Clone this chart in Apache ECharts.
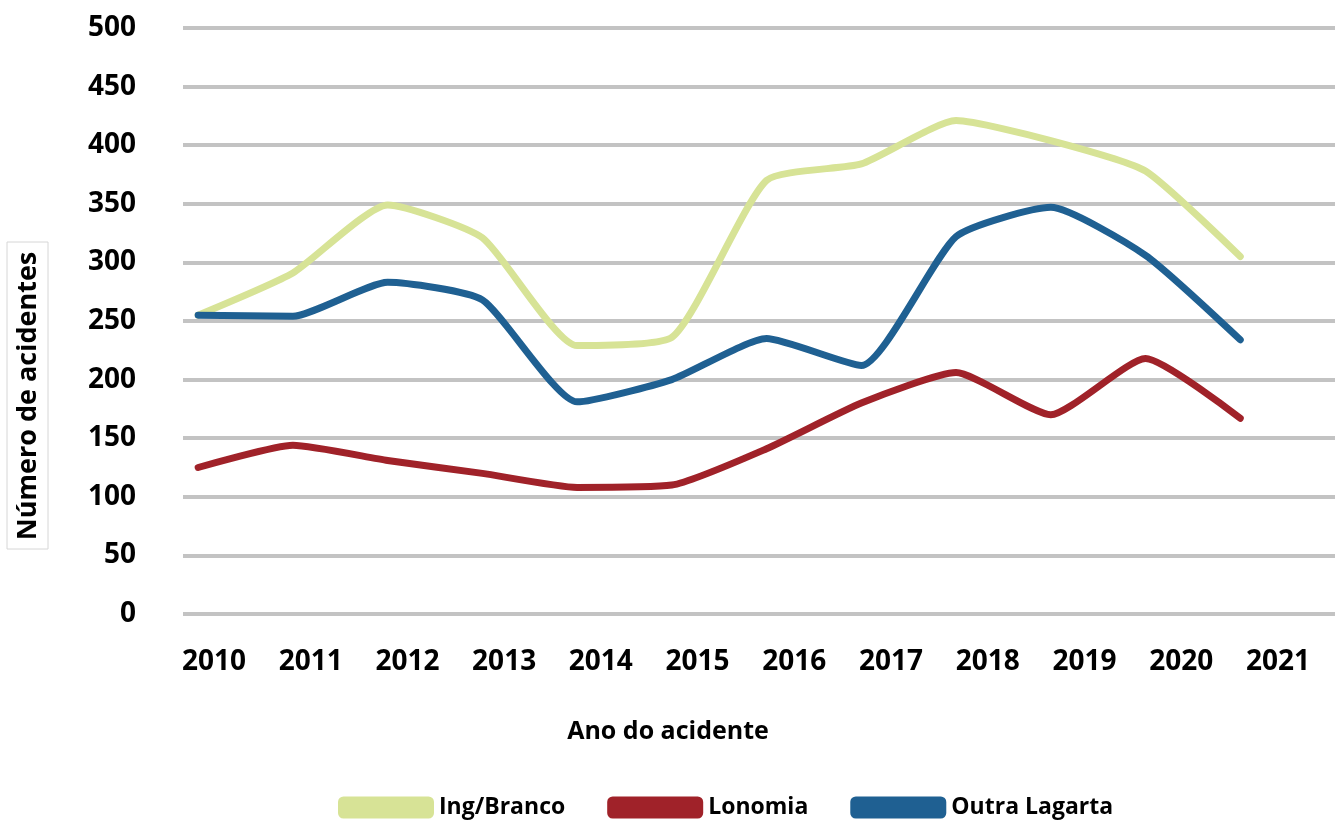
<!DOCTYPE html>
<html>
<head>
<meta charset="utf-8">
<title>Acidentes por lagartas</title>
<script src="https://cdn.jsdelivr.net/npm/echarts@6/dist/echarts.min.js"></script>
<style>
  html, body { margin: 0; padding: 0; background: #fff; }
  #chart { width: 1339px; height: 820px; }
</style>
</head>
<body>
<div id="chart"></div>
<script>
// anos (eixo x) e series
var anos = [2010, 2011, 2012, 2013, 2014, 2015, 2016, 2017, 2018, 2019, 2020, 2021];
var ingBranco = [255, 291, 349, 321, 229, 236, 370, 384, 421, 404, 378, 305];
var lonomia = [125, 144, 131, 120, 108, 110, 141, 180, 206, 170, 218, 167];
var outraLagarta = [255, 254, 283, 268, 181, 200, 235, 212, 322, 347, 306, 234];
var yTicks = [0, 50, 100, 150, 200, 250, 300, 350, 400, 450, 500];

var fonte = '"Open Sans", "Noto Sans", sans-serif';

function pares(valores) {
    return anos.map(function (ano, i) {
        return [ano, valores[i]];
    });
}

function serie(nome, cor, valores) {
    return {
        name: nome,
        type: 'line',
        xAxisIndex: 1,
        data: pares(valores),
        smooth: 0.18,
        symbol: 'none',
        color: cor,
        lineStyle: {width: 7, color: cor, cap: 'round', join: 'round'}
    };
}

var myChart = echarts.init(document.getElementById('chart'));
var option = {
    backgroundColor: '#ffffff',
    animation: false,
    grid: {left: 183, right: 4, top: 28, bottom: 206},
    xAxis: [
        {
            // eixo so com os rotulos dos anos
            type: 'value',
            min: 2009.68,
            max: 2021.59,
            axisLine: {show: false},
            axisTick: {show: false},
            splitLine: {show: false},
            axisLabel: {
                customValues: anos,
                margin: 34,
                color: '#000',
                fontFamily: fonte,
                fontWeight: 'bold',
                fontSize: 28,
                formatter: function (v) { return String(v); }
            }
        },
        {
            // eixo dos dados
            type: 'value',
            show: false,
            min: 2009.84,
            max: 2022.0
        }
    ],
    yAxis: {
        type: 'value',
        min: yTicks[0],
        max: yTicks[yTicks.length - 1],
        interval: 50,
        axisLine: {show: false},
        axisTick: {show: false},
        axisLabel: {
            margin: 47,
            color: '#000',
            fontFamily: fonte,
            fontWeight: 'bold',
            fontSize: 28
        },
        splitLine: {lineStyle: {color: '#c3c3c3', width: 4}}
    },
    legend: {
        left: 333,
        top: 791,
        itemWidth: 96,
        itemHeight: 22,
        itemGap: 42,
        icon: 'roundRect',
        textStyle: {color: '#000', fontFamily: fonte, fontWeight: 'bold', fontSize: 23},
        data: ['Ing/Branco', 'Lonomia', 'Outra Lagarta']
    },
    graphic: [
        {
            type: 'rect',
            shape: {x: 7, y: 242, width: 41, height: 307},
            style: {fill: 'none', stroke: '#d6d6d6', lineWidth: 1}
        },
        {
            type: 'text',
            x: 28,
            y: 396,
            rotation: Math.PI / 2,
            style: {
                text: 'Número de acidentes',
                fill: '#000',
                font: 'bold 27px ' + fonte,
                textAlign: 'center',
                textVerticalAlign: 'middle'
            }
        },
        {
            type: 'text',
            x: 668,
            y: 732,
            style: {
                text: 'Ano do acidente',
                fill: '#000',
                font: 'bold 25px ' + fonte,
                textAlign: 'center',
                textVerticalAlign: 'middle'
            }
        }
    ],
    series: [
        serie('Ing/Branco', '#d7e396', ingBranco),
        serie('Lonomia', '#a02229', lonomia),
        serie('Outra Lagarta', '#1f6092', outraLagarta)
    ]
};
myChart.setOption(option);
</script>
</body>
</html>
